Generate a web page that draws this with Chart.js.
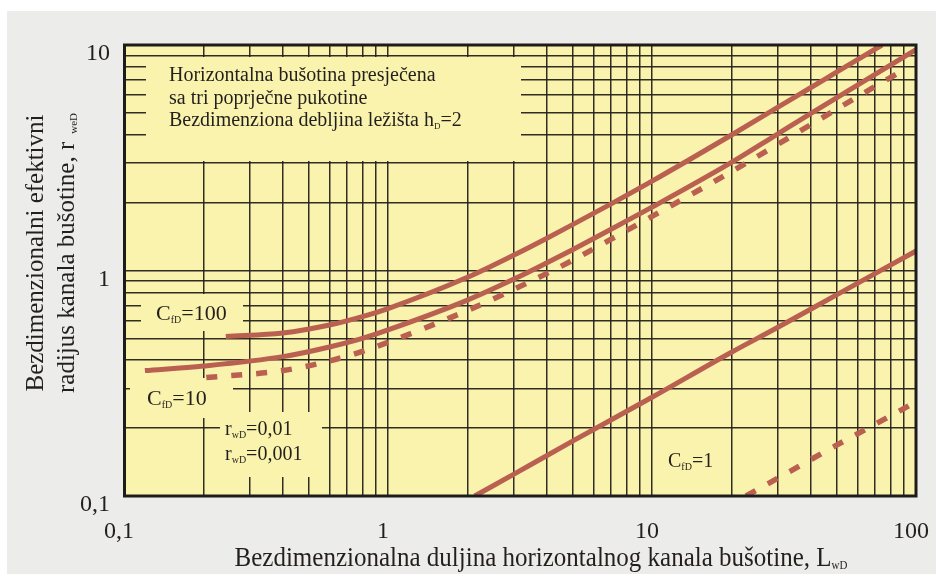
<!DOCTYPE html>
<html lang="hr">
<head>
<meta charset="utf-8">
<title>Efektivni radijus horizontalne bušotine</title>
<script src="https://cdn.jsdelivr.net/npm/chart.js@4.4.1/dist/chart.umd.min.js"></script>
<style>
  html, body { margin: 0; padding: 0; background: #ffffff; overflow: hidden; }
  canvas { display: block; }
</style>
</head>
<body>
<canvas id="chart" width="936" height="574"></canvas>
<script>
// Grid lines of the two logarithmic axes
const L_GRID = [0.1, 0.2, 0.3, 0.4, 0.5, 0.6, 0.7, 0.8, 0.9, 1, 2, 3, 4, 5, 6, 7, 8, 9, 10, 20, 30, 40, 50, 60, 70, 80, 90, 100];
const R_GRID = [0.1, 0.2, 0.3, 0.4, 0.5, 0.6, 0.7, 0.8, 0.9, 1, 2, 3, 4, 5, 6, 7, 8, 9, 10];

// Labelled ticks (decimal comma)
const L_TICK_VALUES = [0.1, 1, 10, 100];
const L_TICK_TEXT = ['0,1', '1', '10', '100'];
const R_TICK_VALUES = [0.1, 1, 10];
const R_TICK_TEXT = ['0,1', '1', '10'];

// CfD = 100, rwD = 0,01
const CFD100_L = [0.243, 0.4, 0.6, 0.8, 1, 2, 3, 4, 5, 7, 10, 20, 30, 40, 50, 74.3];
const CFD100_R = [0.51, 0.528, 0.573, 0.624, 0.678, 0.933, 1.171, 1.391, 1.598, 1.975, 2.49, 3.99, 5.30, 6.48, 7.58, 10];
// CfD = 10, rwD = 0,01
const CFD10_L = [0.12, 0.2, 0.4, 0.6, 0.8, 1, 2, 3, 4, 5, 7, 10, 20, 30, 40, 50, 70, 100];
const CFD10_R = [0.36, 0.377, 0.415, 0.458, 0.5, 0.545, 0.739, 0.916, 1.082, 1.237, 1.524, 1.909, 3.015, 4.04, 4.97, 5.83, 7.41, 9.54];
// CfD = 10, rwD = 0,001
const CFD10_THIN_L = [0.205, 0.4, 0.6, 0.8, 1, 2, 3, 4, 5, 7, 10, 20, 30, 40, 50, 70, 90];
const CFD10_THIN_R = [0.335, 0.36, 0.397, 0.438, 0.48, 0.665, 0.825, 0.971, 1.11, 1.377, 1.737, 2.745, 3.63, 4.44, 5.19, 6.55, 7.77];
// CfD = 1, rwD = 0,01
const CFD1_L = [2.13, 3, 5, 10, 20, 30, 50, 100];
const CFD1_R = [0.1, 0.125, 0.175, 0.274, 0.434, 0.56, 0.78, 1.22];
// CfD = 1, rwD = 0,001
const CFD1_THIN_L = [22.7, 30, 50, 70, 95.5];
const CFD1_THIN_R = [0.1, 0.12, 0.168, 0.208, 0.254];

const CURVE = '#ba6050';
const PLOT_BG = '#faf3ae';
const PAGE_BG = '#ececea';
const INK = '#231f1c';
const GRID = 'rgba(38,34,26,0.95)';
const SERIF = '"Liberation Serif", "Times New Roman", serif';

function points(xs, ys) {
  return xs.map((x, i) => ({ x: x, y: ys[i] }));
}

function curve(label, xs, ys, dashed) {
  return {
    label: label,
    data: points(xs, ys),
    borderColor: CURVE,
    borderWidth: dashed ? 5.5 : 5,
    borderDash: dashed ? [11, 14] : [],
    borderCapStyle: 'butt',
    pointRadius: 0,
    pointHoverRadius: 0,
    fill: false,
    cubicInterpolationMode: 'monotone'
  };
}

// Text made of runs, e.g. a letter followed by a small subscript
function runsWidth(ctx, runs) {
  let w = 0;
  for (const r of runs) {
    ctx.font = r.size + 'px ' + SERIF;
    w += ctx.measureText(r.t).width + (r.gap || 0);
  }
  return w;
}
function drawRuns(ctx, x, y, runs) {
  let cx = x;
  for (const r of runs) {
    ctx.font = r.size + 'px ' + SERIF;
    ctx.fillText(r.t, cx, y + (r.dy || 0));
    cx += ctx.measureText(r.t).width + (r.gap || 0);
  }
}

// Page, panel and plot-area background
const backdrop = {
  id: 'backdrop',
  beforeDraw(chart) {
    const { ctx, chartArea: a } = chart;
    ctx.save();
    ctx.fillStyle = '#ffffff';
    ctx.fillRect(0, 0, chart.width, chart.height);
    ctx.fillStyle = PAGE_BG;
    ctx.fillRect(7, 11, chart.width - 7, chart.height - 11);
    ctx.fillStyle = PLOT_BG;
    ctx.fillRect(a.left, a.top, a.right - a.left, a.bottom - a.top);
    ctx.restore();
  }
};

// Clear patches of the grid behind the annotations, then write them
const notes = {
  id: 'notes',
  beforeDatasetsDraw(chart) {
    const ctx = chart.ctx;
    ctx.save();
    ctx.fillStyle = PLOT_BG;
    ctx.fillRect(146, 57, 375, 104);   // description block
    ctx.fillRect(141, 294, 102, 37);   // CfD=100
    ctx.fillRect(130, 378, 103, 40);   // CfD=10
    ctx.fillRect(220, 412, 102, 65);   // rwD legend

    ctx.fillStyle = INK;
    ctx.textBaseline = 'alphabetic';
    ctx.textAlign = 'left';
    drawRuns(ctx, 169, 81, [{ t: 'Horizontalna bušotina presječena', size: 20 }]);
    drawRuns(ctx, 169, 103.5, [{ t: 'sa tri poprječne pukotine', size: 20 }]);
    drawRuns(ctx, 169, 126, [
      { t: 'Bezdimenziona debljina ležišta h', size: 20 },
      { t: 'D', size: 9, dy: 3 },
      { t: '=2', size: 20 }
    ]);

    drawRuns(ctx, 156, 319.5, [{ t: 'C', size: 22 }, { t: 'fD', size: 10, dy: 3 }, { t: '=100', size: 22 }]);
    drawRuns(ctx, 147, 405, [{ t: 'C', size: 22 }, { t: 'fD', size: 10, dy: 3 }, { t: '=10', size: 22 }]);
    drawRuns(ctx, 225, 435, [{ t: 'r', size: 20 }, { t: 'wD', size: 10, dy: 3 }, { t: '=0,01', size: 20 }]);
    drawRuns(ctx, 225, 459.5, [{ t: 'r', size: 20 }, { t: 'wD', size: 10, dy: 3 }, { t: '=0,001', size: 20 }]);
    drawRuns(ctx, 668, 467, [{ t: 'C', size: 20 }, { t: 'fD', size: 10, dy: 3 }, { t: '=1', size: 20 }]);
    ctx.restore();
  },
  afterDatasetsDraw(chart) {
    const { ctx, chartArea: a } = chart;
    ctx.save();
    // frame of the plot area
    ctx.strokeStyle = '#1e1c18';
    ctx.lineWidth = 3;
    ctx.strokeRect(a.left + 0.5, a.top, a.right - a.left - 0.5, a.bottom - a.top);

    ctx.fillStyle = INK;
    ctx.textBaseline = 'alphabetic';
    // x axis title
    const xRuns = [
      { t: 'Bezdimenzionalna duljina horizontalnog kanala bušotine, L', size: 25 },
      { t: 'wD', size: 11, dy: 3 }
    ];
    const xw = runsWidth(ctx, xRuns);
    ctx.save();
    ctx.translate(541 - xw / 2, 566);
    ctx.scale(1, 1.1);
    drawRuns(ctx, 0, 0, xRuns);
    ctx.restore();

    // y axis title, two lines
    const y1 = [{ t: 'Bezdimenzionalni efektivni', size: 25 }];
    const y2 = [
      { t: 'radijus kanala bušotine, r', size: 25, gap: 8 },
      { t: 'weD', size: 11, dy: 3 }
    ];
    ctx.save();
    ctx.translate(43, 253);
    ctx.rotate(-Math.PI / 2);
    drawRuns(ctx, -runsWidth(ctx, y1) / 2, 0, y1);
    drawRuns(ctx, -runsWidth(ctx, y2) / 2, 31, y2);
    ctx.restore();
    ctx.restore();
  }
};

function labelFor(values, texts) {
  return function (value) {
    const i = values.findIndex(v => Math.abs(v - value) < 1e-9);
    return i >= 0 ? texts[i] : '';
  };
}

new Chart(document.getElementById('chart'), {
  type: 'line',
  data: {
    datasets: [
      curve('CfD=100, rwD=0,01', CFD100_L, CFD100_R, false),
      curve('CfD=10, rwD=0,01', CFD10_L, CFD10_R, false),
      curve('CfD=10, rwD=0,001', CFD10_THIN_L, CFD10_THIN_R, true),
      curve('CfD=1, rwD=0,01', CFD1_L, CFD1_R, false),
      curve('CfD=1, rwD=0,001', CFD1_THIN_L, CFD1_THIN_R, true)
    ]
  },
  options: {
    responsive: false,
    devicePixelRatio: 1,
    animation: false,
    events: [],
    layout: { padding: { top: 45, right: 20, bottom: 0, left: 0 }, autoPadding: false },
    plugins: {
      legend: { display: false },
      tooltip: { enabled: false },
      title: { display: false }
    },
    scales: {
      x: {
        type: 'logarithmic',
        min: 0.1,
        max: 100,
        afterBuildTicks(scale) { scale.ticks = L_GRID.map(v => ({ value: v })); },
        afterFit(scale) {
          scale.height = 78;
          scale.paddingLeft = 0;
          scale.paddingRight = 0;
        },
        border: { display: false },
        grid: { color: GRID, lineWidth: 1.5, drawTicks: false },
        ticks: {
          autoSkip: false,
          maxRotation: 0,
          padding: 21,
          labelOffset: -5,
          color: INK,
          font: { family: SERIF, size: 24 },
          callback: labelFor(L_TICK_VALUES, L_TICK_TEXT)
        }
      },
      y: {
        type: 'logarithmic',
        min: 0.1,
        max: 10,
        afterBuildTicks(scale) { scale.ticks = R_GRID.map(v => ({ value: v })); },
        afterFit(scale) {
          scale.width = 124;
          scale.paddingTop = 0;
          scale.paddingBottom = 0;
        },
        border: { display: false },
        grid: { color: GRID, lineWidth: 1.5, drawTicks: false },
        ticks: {
          autoSkip: false,
          padding: 14,
          labelOffset: 9,
          color: INK,
          font: { family: SERIF, size: 24 },
          callback: labelFor(R_TICK_VALUES, R_TICK_TEXT)
        }
      }
    }
  },
  plugins: [backdrop, notes]
});
</script>
</body>
</html>
